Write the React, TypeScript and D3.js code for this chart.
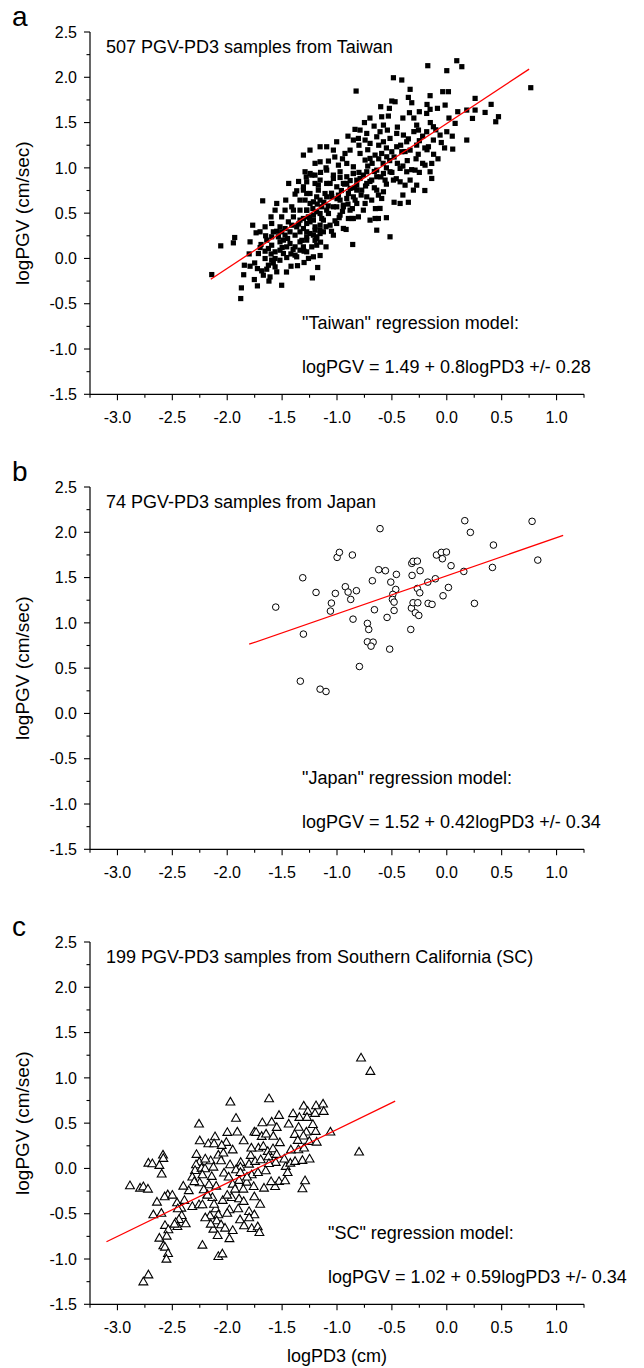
import React from "react";
import * as d3 from "d3";

// ---------- data ----------
const xTickLabels = ["-3.0", "-2.5", "-2.0", "-1.5", "-1.0", "-0.5", "0.0", "0.5", "1.0"];
const yTickLabels = ["-1.5", "-1.0", "-0.5", "0.0", "0.5", "1.0", "1.5", "2.0", "2.5"];

const taiwanPoints: [number, number][] = [
  [-2.141,-0.178],[-2.059,0.139],[-1.932,0.231],[-1.944,0.172],[-1.792,0.183],[-1.768,0.367],[-1.737,0.283],[-1.677,0.636],
  [-1.871,-0.325],[-1.877,-0.443],[-1.753,-0.233],[-1.725,-0.303],[-1.844,-0.075],[-1.792,-0.086],[-1.725,-0.112],[-1.686,-0.137],
  [-1.671,-0.185],[-1.640,-0.119],[-1.610,-0.204],[-1.504,-0.296],[-1.549,-0.148],[-1.419,-0.086],[-1.300,-0.045],[-1.224,-0.215],
  [-1.176,-0.100],[-1.215,0.018],[-1.154,0.032],[-1.100,0.128],[-1.185,0.146],[-0.857,0.154],[-0.917,0.320],[-0.851,0.441],
  [-1.018,0.415],[-1.078,0.496],[-1.440,0.828],[-1.655,-0.001],[-1.716,0.054],[-1.655,0.080],[-1.692,0.154],[-1.640,0.202],
  [-1.701,0.294],[-1.655,0.349],[-1.595,0.386],[-1.601,0.459],[-1.564,0.533],[-1.549,0.607],[-1.467,0.644],[-1.382,0.710],
  [-1.367,0.747],[-1.306,0.791],[-1.245,0.938],[-1.200,0.920],[-1.154,0.865],[-1.094,0.828],[-1.170,0.809],[-1.033,0.883],
  [-0.972,0.894],[-0.911,0.828],[-0.851,0.938],[-0.820,0.865],[-0.820,0.754],[-0.896,0.717],[-0.972,0.644],[-1.002,0.570],
  [-0.942,0.570],[-0.835,0.644],[-1.094,0.680],[-1.185,0.680],[-1.245,0.607],[-1.276,0.717],[-1.337,0.644],[-1.412,0.570],
  [-1.473,0.533],[-1.504,0.459],[-1.519,0.349],[-1.473,0.330],[-1.534,0.239],[-1.595,0.146],[-1.488,0.202],[-1.428,0.165],
  [-1.382,0.128],[-1.337,0.183],[-1.276,0.202],[-1.245,0.275],[-1.200,0.312],[-1.154,0.367],[-1.337,0.294],[-1.382,0.257],
  [-1.428,0.294],[-1.473,0.257],[-1.276,0.386],[-1.337,0.423],[-1.397,0.459],[-1.215,0.478],[-1.154,0.496],[-1.139,0.570],
  [-1.215,0.423],[-1.488,0.054],[-1.564,-0.001],[-1.458,0.010],[-1.367,0.018],[-1.595,-0.019],[-1.519,0.091],[-1.564,0.073],
  [-0.602,1.675],[-0.523,1.657],[-0.471,1.730],[-0.319,1.719],[-0.183,1.601],[-0.152,1.646],[-0.085,1.657],[-0.015,1.693],
  [-0.340,1.609],[-0.532,1.572],[-0.593,1.564],[-0.662,1.461],[-0.577,1.472],[-0.541,1.417],[-0.608,1.399],[-0.729,1.380],
  [-0.790,1.417],[-0.836,1.425],[-0.851,1.307],[-0.805,1.325],[-0.744,1.307],[-0.699,1.270],[-0.638,1.343],[-0.577,1.288],
  [-0.517,1.325],[-0.456,1.380],[-0.395,1.362],[-0.365,1.288],[-0.274,1.472],[-0.258,1.417],[-0.183,1.399],[-0.122,1.454],
  [-0.061,1.362],[0.000,1.399],[0.076,1.491],[0.054,1.207],[-0.122,1.307],[-0.167,1.233],[-0.274,1.251],[-0.334,1.196],
  [-0.410,1.178],[-0.456,1.233],[-0.501,1.178],[-0.547,1.122],[-0.593,1.159],[-0.653,1.141],[-0.699,1.104],[-0.744,1.086],
  [-0.790,1.159],[-0.881,1.196],[-0.927,1.159],[-1.003,1.288],[-1.033,1.196],[-1.094,1.233],[-1.154,1.233],[-1.246,1.196],
  [-1.306,1.141],[-1.154,1.067],[-1.078,1.075],[-0.987,1.030],[-0.911,1.049],[-0.851,1.012],[-0.729,0.957],[-0.638,0.975],
  [-0.577,0.938],[-0.517,0.957],[-0.425,0.994],[-0.365,0.957],[-0.289,0.975],[-0.334,0.865],[-0.425,0.846],[-0.486,0.865],
  [-0.562,0.865],[-0.638,0.902],[-0.684,0.865],[-0.729,0.828],[-0.274,0.809],[-0.198,1.030],[-0.137,1.049],[-0.152,0.957],
  [-0.137,0.883],[-0.304,0.754],[-0.380,0.809],[-0.577,0.736],[-0.623,0.699],[-0.593,0.662],[-0.638,0.754],[-0.684,0.644],
  [-0.608,0.552],[-0.653,0.441],[-0.623,0.441],[-0.699,0.423],[-0.760,0.533],[-0.638,0.312],[-0.517,0.239],[-0.425,0.607],
  [-0.775,0.754],[-0.729,0.680],[-0.744,0.607],
  [0.091,2.183],[0.137,2.117],[-0.173,2.128],[0.000,2.073],[-0.486,1.995],[-0.410,1.970],[-0.334,1.867],[-0.826,1.848],
  [-0.037,1.841],[0.015,1.841],[-0.152,1.797],[0.258,1.767],[0.765,1.885],[0.404,1.701],[0.349,1.612],[0.471,1.565],
  [0.446,1.509],[0.258,1.638],[0.182,1.638],[0.234,1.546],[0.182,1.307],[-0.350,1.778],[-0.501,1.738],
  [-1.291,0.957],[-1.230,0.920],[-1.276,0.846],[-1.200,0.828],[-1.306,0.754],[-1.246,0.717],[-1.170,0.754],[-1.291,0.644],
  [-1.215,0.625],[-1.276,0.533],[-1.185,0.515],[-1.306,0.441],[-1.246,0.404],[-1.200,0.349],[-1.276,0.294],[-1.215,0.257],
  [-1.154,0.312],[-1.094,0.975],[-1.033,0.920],[-0.972,0.957],[-0.911,0.902],[-0.851,0.938],[-0.790,0.883],[-1.063,0.828],
  [-1.002,0.791],[-0.942,0.828],[-0.881,0.773],[-0.820,0.809],[-1.109,0.717],[-1.048,0.680],[-0.987,0.699],[-0.911,0.662],
  [-0.851,0.680],[-1.033,0.570],[-0.942,0.588],[-0.881,0.533],[-0.820,0.607],[-0.972,0.478],[-1.094,0.533],[-1.154,0.644],
  [-0.805,0.459],[-0.866,0.441],[-1.124,0.423],[-1.063,0.367],[-1.003,0.386],[-1.154,0.275],[-1.033,0.257],[-0.942,0.331],
  [-0.896,0.441],[-1.276,0.239],[-1.185,0.220],
  [-1.443,0.404],[-1.367,0.349],[-1.306,0.330],[-1.261,0.459],[-1.412,0.367],[-1.504,0.294],[-1.580,0.294],[-1.458,0.128],
  [-1.337,0.091],[-1.276,0.073],[-1.230,0.128],[-1.185,0.239],[-1.124,0.294],[-1.139,0.441],[-1.397,0.533],[-1.519,0.183],
  [-1.625,0.110],[-1.595,0.239],[-1.337,0.533],[-1.276,0.533],[-1.306,0.128],[-1.382,0.036],[-1.625,-0.075],[-1.564,-0.093],
  [-1.25,0.45],[-1.22,0.55],[-1.18,0.60],[-1.12,0.62],[-1.08,0.58],[-1.05,0.72],[-1.00,0.66],[-0.96,0.75],
  [-0.93,0.82],[-0.88,0.86],[-0.84,0.78],[-0.80,0.95],[-0.76,0.92],[-0.72,1.02],[-0.68,1.05],[-0.66,0.96],
  [-0.62,1.10],[-0.58,1.05],[-0.55,1.00],[-0.52,1.08],[-0.48,1.12],[-0.45,1.05],[-0.42,1.25],[-0.38,1.18],
  [-0.35,1.32],[-0.30,1.40],[-0.28,1.10],[-0.25,1.30],[-0.22,1.35],[-0.20,1.22],[-0.15,1.50],[-0.10,1.42],
  [-0.05,1.28],[0.02,1.55],[0.05,1.35],[0.10,1.62],[-1.35,0.38],[-1.32,0.20],[-1.40,0.10],[-1.45,0.22],
  [-1.50,0.12],[-1.55,0.30],[-1.60,0.05],[-1.65,0.25],[-1.70,0.12],[-1.75,-0.05],[-1.80,0.05],[-1.85,-0.18],
  [-1.62,-0.25],[-1.58,-0.05],[-1.52,-0.02],[-1.46,-0.15],[-1.42,0.05],[-1.36,-0.08],[-1.30,0.08],[-1.26,0.00],
  [-1.20,0.20],[-1.15,0.18],[-1.10,0.35],[-1.05,0.30],[-0.98,0.45],[-0.95,0.52],[-0.90,0.60],[-0.86,0.55],
  [-0.78,0.70],[-0.74,0.80],[-0.70,0.85],[-0.66,0.78],[-0.60,0.90],[-0.55,0.82],[-0.50,0.95],[-0.46,0.88],
  [-0.40,1.02],[-0.36,1.08],[-0.32,0.98],[-0.26,1.15],[-0.22,1.05],[-0.18,1.20],[-0.12,1.15],[-0.08,1.10],
  [-0.02,1.22],[-0.72,1.20],[-0.80,1.25],[-0.90,1.35],[-0.95,1.10],[-1.02,1.12],[-1.10,1.00],[-1.15,0.95],
  [-1.20,1.05],[-1.28,0.90],[-1.35,0.85],[-0.55,1.22],[-0.62,1.25],[-0.45,1.45],[-0.40,1.55],[-0.30,1.55],
  [-0.25,1.62],[-0.18,1.70],[-0.70,1.55],[-0.75,1.50],[-0.65,0.55],[-0.55,0.45],[-0.48,0.62],[-0.40,0.70],
  [-0.35,0.62],[-0.25,0.95],[-0.20,0.75],
];

const japanPoints: [number, number][] = [
  [-1.558,1.174],[-1.312,1.498],[-1.306,0.876],[-1.334,0.356],[-1.154,0.268],[-1.100,0.242],[-1.191,1.336],[-1.051,1.218],
  [-1.060,1.130],[-1.015,1.325],[-0.999,1.723],[-0.978,1.778],[-0.860,1.749],[-0.924,1.399],[-0.899,1.340],[-0.875,1.259],
  [-0.823,1.355],[-0.854,1.041],[-0.796,0.518],[-0.723,0.994],[-0.711,0.927],[-0.723,0.791],[-0.671,0.787],[-0.690,0.743],
  [-0.678,1.465],[-0.659,1.145],[-0.620,1.587],[-0.608,2.040],[-0.559,1.576],[-0.544,1.060],[-0.520,0.710],[-0.510,1.450],
  [-0.459,1.535],[-0.465,1.369],[-0.492,1.314],[-0.495,1.259],[-0.480,1.229],[-0.480,1.137],[-0.328,0.927],[-0.322,1.163],
  [-0.307,1.222],[-0.286,1.111],[-0.264,1.222],[-0.255,1.082],[-0.316,1.524],[-0.319,1.657],[-0.307,1.679],[-0.268,1.682],
  [-0.243,1.576],[-0.268,1.380],[-0.246,1.332],[-0.173,1.450],[-0.170,1.215],[-0.134,1.204],[-0.104,1.487],[-0.094,1.749],
  [-0.049,1.778],[-0.003,1.782],[-0.040,1.708],[0.039,1.631],[0.015,1.391],[-0.034,1.299],[0.155,1.568],[0.164,2.128],
  [0.215,1.999],[0.252,1.215],[0.416,1.612],[0.425,1.859],[0.777,2.121],[0.829,1.693],
];

const scPoints: [number, number][] = [
  [-1.971,0.728],[-2.257,0.485],[-2.111,0.345],[-1.999,0.393],[-1.908,0.397],[-1.753,0.397],[-1.737,0.393],[-1.686,0.349],
  [-1.646,0.375],[-2.172,0.268],[-2.120,0.268],[-2.008,0.283],[-2.585,0.143],[-2.582,0.106],[-2.718,0.054],[-2.682,0.047],
  [-2.618,0.029],[-2.597,-0.067],[-2.886,-0.196],[-2.794,-0.222],[-2.764,-0.207],[-2.722,-0.233],[-2.542,-0.296],[-2.570,-0.318],
  [-2.640,-0.377],[-2.673,-0.517],[-2.457,-0.384],[-2.390,-0.358],[-2.418,-0.443],[-2.318,-0.425],[-2.257,-0.406],[-2.226,-0.406],
  [-2.254,0.065],[-2.284,0.036],[-2.293,-0.027],[-2.318,-0.100],[-2.233,-0.001],[-2.202,-0.008],[-2.151,0.080],[-2.126,0.010],
  [-2.081,0.143],[-2.035,0.165],[-2.056,0.080],[-2.029,-0.056],[-1.974,0.036],[-1.987,-0.100],[-2.226,-0.075],[-2.141,-0.093],
  [-2.251,-0.163],[-2.166,-0.185],[-2.214,-0.240],[-2.181,-0.296],[-2.135,-0.325],[-1.877,0.062],[-1.880,0.010],[-1.801,0.043],
  [-1.786,0.139],[-1.746,0.073],[-1.716,0.220],[-1.671,0.239],[-1.631,0.183],[-1.695,0.091],[-1.649,-0.030],[-1.777,-0.075],
  [-1.823,-0.156],[-1.892,-0.137],[-1.950,-0.178],[-1.929,-0.233],[-1.853,-0.233],[-1.759,-0.204],[-1.665,-0.222],[-2.041,-0.358],
  [-1.959,-0.325],[-1.892,-0.340],[-1.850,-0.369],[-1.753,-0.318],[-1.980,-0.461],[-2.105,-0.450],[-2.081,-0.517],[-2.157,-0.528],
  [-1.801,-0.480],[-1.753,-0.517],[-1.883,-0.572],[-2.415,-0.524],[-2.439,-0.568],[-2.469,-0.601],[-2.378,-0.616],[-2.567,-0.634],
  [-2.536,-0.682],[-2.096,-0.583],[-2.056,-0.627],[-2.126,-0.675],[-2.020,-0.664],[-1.950,-0.690],[-1.847,-0.638],[-1.777,-0.668],
  [-1.722,-0.649],[-1.707,-0.712],[-2.087,-0.745],[-2.618,-0.774],[-2.551,-0.752],[-2.582,-0.859],[-2.567,-0.874],[-2.539,-0.944],
  [-2.554,-1.006],[-2.226,-0.852],[-2.081,-0.977],[-2.044,-0.948],[-2.718,-1.180],[-2.764,-1.257],[-2.454,-0.646],
  [-0.781,1.215],[-0.696,1.067],[-1.619,0.765],[-1.303,0.684],[-1.191,0.688],[-1.127,0.706],[-1.267,0.625],[-1.200,0.603],
  [-1.121,0.625],[-1.528,0.581],[-1.343,0.559],[-1.273,0.559],[-1.595,0.507],[-1.549,0.448],[-1.440,0.485],[-1.385,0.371],
  [-1.279,0.397],[-1.194,0.404],[-1.060,0.397],[-1.306,0.353],[-1.358,0.305],[-1.252,0.294],[-1.185,0.286],[-1.352,0.202],
  [-1.583,0.213],[-1.625,0.124],[-1.558,0.062],[-1.467,0.018],[-1.425,0.054],[-1.382,0.073],[-1.315,0.084],[-0.799,0.176],
  [-1.528,-0.148],[-1.473,-0.141],[-1.564,-0.204],[-1.291,-0.141],[-1.315,-0.229],
  [-2.35,-0.25],[-2.30,-0.15],[-2.28,0.15],[-2.20,0.10],[-2.18,-0.30],[-2.10,-0.20],[-2.05,0.25],[-2.00,-0.30],
  [-1.95,0.20],[-1.92,-0.02],[-1.90,-0.45],[-1.85,0.30],[-1.82,-0.10],[-1.78,0.22],[-1.72,-0.05],[-1.70,-0.40],
  [-1.68,0.50],[-1.62,0.05],[-1.58,0.35],[-1.52,0.28],[-1.48,0.10],[-1.45,-0.05],[-1.42,0.20],[-1.40,0.60],
  [-1.35,0.45],[-1.30,0.22],[-1.25,0.10],[-1.22,0.48],[-2.45,-0.45],[-2.50,-0.30],[-2.40,-0.20],[-2.60,-0.50],
  [-2.48,-0.62],[-2.00,-0.50],[-2.12,-0.40],[-1.98,-0.78],[-2.15,-0.62],[-1.88,-0.05],[-2.25,0.30],[-1.60,-0.15],
  [-1.55,0.15],[-1.92,0.55],[-2.20,-0.55],[-1.80,-0.55],
];

// regression models: [intercept, slope, xStart, xEnd]
const taiwanModel = [1.49, 0.8, -2.15, 0.75];
const japanModel = [1.52, 0.42, -1.8, 1.06];
const scModel = [1.02, 0.59, -3.1, -0.47];

// ---------- layout ----------
const W = 644;
const H = 1368;
const X0 = 90;
const X1 = 584;
const PH = 362.3;
const FONT = "'Liberation Sans', Arial, Helvetica, sans-serif";

type PanelProps = {
  top: number;
  letter: string;
  title: string;
  modelName: string;
  equation: string;
  annX: number;
  points: [number, number][];
  model: number[];
  marker: "square" | "circle" | "triangle";
  showXLabel?: boolean;
};

function Panel(p: PanelProps) {
  const x = d3.scaleLinear().domain([-3.25, 1.25]).range([X0, X1]);
  const y = d3.scaleLinear().domain([-1.5, 2.5]).range([p.top + PH, p.top]);
  const bottom = p.top + PH;
  const xMinor = d3.range(-3.25, 1.26, 0.25);
  const yMinor = d3.range(-1.5, 2.51, 0.25);
  const line = d3.line<number>().x((v) => x(v)).y((v) => y(p.model[0] + p.model[1] * v));
  const tri = d3.symbol(d3.symbolTriangle, 34)() as string;

  return (
    <g>
      <text x={12} y={p.top - 6} fontSize={28} fontFamily={FONT}>{p.letter}</text>
      {p.points.map((d, i) => {
        const cx = x(d[0]);
        const cy = y(d[1]);
        if (p.marker === "square")
          return <rect key={i} x={cx - 2.6} y={cy - 2.6} width={5.2} height={5.2} fill="#000" />;
        if (p.marker === "circle")
          return <circle key={i} cx={cx} cy={cy} r={3.3} fill="#fff" stroke="#000" strokeWidth={1} />;
        return <path key={i} d={tri} transform={`translate(${cx},${cy})`} fill="#fff" stroke="#000" strokeWidth={1.1} />;
      })}
      <path d={line([p.model[2], p.model[3]]) as string} stroke="#ff0000" strokeWidth={1.3} fill="none" />
      <line x1={X0} y1={p.top} x2={X0} y2={bottom} stroke="#000" strokeWidth={1.2} />
      <line x1={X0} y1={bottom} x2={X1} y2={bottom} stroke="#000" strokeWidth={1.2} />
      {xMinor.map((v, i) => (
        <line key={"xm" + i} x1={x(v)} x2={x(v)} y1={bottom} y2={bottom + (i % 2 === 1 ? 6 : 3.5)} stroke="#000" strokeWidth={1.1} />
      ))}
      {yMinor.map((v, i) => (
        <line key={"ym" + i} x1={X0} x2={X0 - (i % 2 === 0 ? 6 : 3.5)} y1={y(v)} y2={y(v)} stroke="#000" strokeWidth={1.1} />
      ))}
      {xTickLabels.map((t) => (
        <text key={"xl" + t} x={x(+t)} y={bottom + 29} textAnchor="middle" fontSize={16} fontFamily={FONT}>{t}</text>
      ))}
      {yTickLabels.map((t) => (
        <text key={"yl" + t} x={77} y={y(+t) + 5.7} textAnchor="end" fontSize={16} fontFamily={FONT}>{t}</text>
      ))}
      <text transform={`translate(29,${p.top + PH / 2}) rotate(-90)`} textAnchor="middle" fontSize={19} fontFamily={FONT}>logPGV (cm/sec)</text>
      <text x={106} y={p.top + 21} fontSize={18} fontFamily={FONT}>{p.title}</text>
      <text x={p.annX} y={p.top + 297} fontSize={18} fontFamily={FONT}>{p.modelName}</text>
      <text x={p.annX} y={p.top + 341} fontSize={18} fontFamily={FONT}>{p.equation}</text>
      {p.showXLabel && (
        <text x={337} y={bottom + 58} textAnchor="middle" fontSize={18} fontFamily={FONT}>logPD3 (cm)</text>
      )}
    </g>
  );
}

export default function App() {
  return (
    <svg width={W} height={H} style={{ position: "absolute", left: 0, top: 0, background: "#fff" }}>
      <rect x={0} y={0} width={W} height={H} fill="#fff" />
      <Panel top={32} letter="a" title="507 PGV-PD3 samples from Taiwan" modelName={'"Taiwan" regression model:'}
        equation="logPGV = 1.49 + 0.8logPD3 +/- 0.28" annX={302} points={taiwanPoints} model={taiwanModel} marker="square" />
      <Panel top={487} letter="b" title="74 PGV-PD3 samples from Japan" modelName={'"Japan" regression model:'}
        equation="logPGV = 1.52 + 0.42logPD3 +/- 0.34" annX={302} points={japanPoints} model={japanModel} marker="circle" />
      <Panel top={942} letter="c" title="199 PGV-PD3 samples from Southern California (SC)" modelName={'"SC" regression model:'}
        equation="logPGV = 1.02 + 0.59logPD3 +/- 0.34" annX={328} points={scPoints} model={scModel} marker="triangle" showXLabel />
    </svg>
  );
}
